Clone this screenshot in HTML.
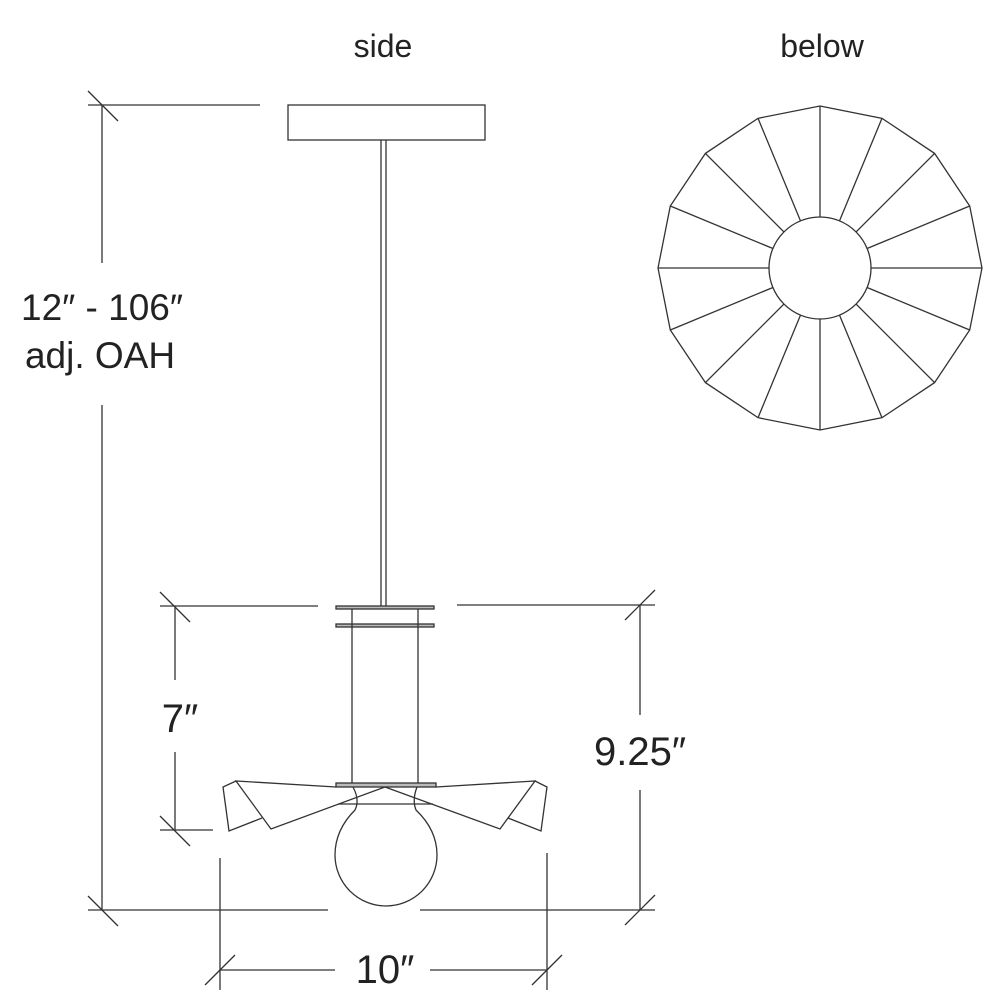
<!DOCTYPE html>
<html><head><style>
html,body{margin:0;padding:0;background:#fff;width:1000px;height:1000px;overflow:hidden}
text{font-family:"Liberation Sans",sans-serif;fill:#222;font-weight:normal}
</style></head><body>
<svg width="1000" height="1000" viewBox="0 0 1000 1000" xmlns="http://www.w3.org/2000/svg">
<g stroke="#333" stroke-width="1.3" fill="none">
<!-- canopy & rod -->
<rect x="288" y="105" width="197" height="35"/>
<line x1="381" y1="140" x2="381" y2="606"/>
<line x1="386" y1="140" x2="386" y2="606"/>
<!-- plates & cylinder -->
<rect x="336" y="606" width="98" height="3" fill="#bbb"/>
<rect x="336" y="624" width="98" height="3" fill="#bbb"/>
<line x1="352" y1="609" x2="352" y2="784"/>
<line x1="418" y1="609" x2="418" y2="784"/>
<rect x="336" y="783" width="100" height="4" fill="#bbb"/>
<line x1="338" y1="804" x2="433" y2="804"/>
<!-- bulb -->
<path d="M353 787 Q360 800 355 810 Q335 830 335 855 A51 51 0 0 0 437 855 Q437 830 416 810 Q412 800 417 787"/>
<!-- shade left -->
<polyline points="336,787 236,781 271,829 385,787"/>
<polyline points="236,781 223,787 229,831 262,818"/>
<!-- shade right -->
<polyline points="436,787 535,781 500,829 385,787"/>
<polyline points="535,781 547,787 541,831 508,818"/>
<!-- dimension: overall -->
<line x1="88" y1="105" x2="260" y2="105"/>
<line x1="88" y1="91" x2="118" y2="121"/>
<line x1="102" y1="105" x2="102" y2="263"/>
<line x1="102" y1="405" x2="102" y2="910"/>
<line x1="88" y1="910" x2="328" y2="910"/>
<line x1="88" y1="896" x2="118" y2="926"/>
<!-- 7 -->
<line x1="160" y1="606" x2="318" y2="606"/>
<line x1="160" y1="592" x2="190" y2="622"/>
<line x1="175" y1="606" x2="175" y2="680"/>
<line x1="175" y1="752" x2="175" y2="830"/>
<line x1="160" y1="830" x2="213" y2="830"/>
<line x1="160" y1="816" x2="190" y2="846"/>
<!-- 9.25 -->
<line x1="457" y1="605" x2="655" y2="605"/>
<line x1="625" y1="620" x2="655" y2="590"/>
<line x1="640" y1="605" x2="640" y2="715"/>
<line x1="640" y1="790" x2="640" y2="910"/>
<line x1="420" y1="910" x2="655" y2="910"/>
<line x1="625" y1="925" x2="655" y2="895"/>
<!-- 10 -->
<line x1="220" y1="858" x2="220" y2="990"/>
<line x1="547" y1="853" x2="547" y2="990"/>
<line x1="220" y1="970" x2="335" y2="970"/>
<line x1="430" y1="970" x2="547" y2="970"/>
<line x1="205" y1="985" x2="235" y2="955"/>
<line x1="532" y1="985" x2="562" y2="955"/>
<!-- below view -->
<g id="poly"></g>
<circle cx="820" cy="268" r="51"/>
</g>
<text x="383" y="57" font-size="32" text-anchor="middle">side</text>
<text x="822" y="57" font-size="32" text-anchor="middle">below</text>
<text x="102" y="320" font-size="37" text-anchor="middle">12″ - 106″</text>
<text x="100" y="368" font-size="37" text-anchor="middle">adj. OAH</text>
<text x="180" y="732" font-size="40" text-anchor="middle">7″</text>
<text x="640" y="765" font-size="40" text-anchor="middle">9.25″</text>
<text x="385" y="983" font-size="40" text-anchor="middle">10″</text>
<script>
(function(){var g=document.getElementById('poly'),ns='http://www.w3.org/2000/svg',cx=820,cy=268,R=162,r=51,pts=[];
for(var i=0;i<16;i++){var a=i*Math.PI/8,s=Math.sin(a),c=-Math.cos(a);
var x=cx+R*s,y=cy+R*c;pts.push(x.toFixed(1)+','+y.toFixed(1));
var l=document.createElementNS(ns,'line');l.setAttribute('x1',(cx+r*s).toFixed(1));l.setAttribute('y1',(cy+r*c).toFixed(1));l.setAttribute('x2',x.toFixed(1));l.setAttribute('y2',y.toFixed(1));g.appendChild(l);}
var p=document.createElementNS(ns,'polygon');p.setAttribute('points',pts.join(' '));g.appendChild(p);})();
</script>
</svg>
</body></html>
